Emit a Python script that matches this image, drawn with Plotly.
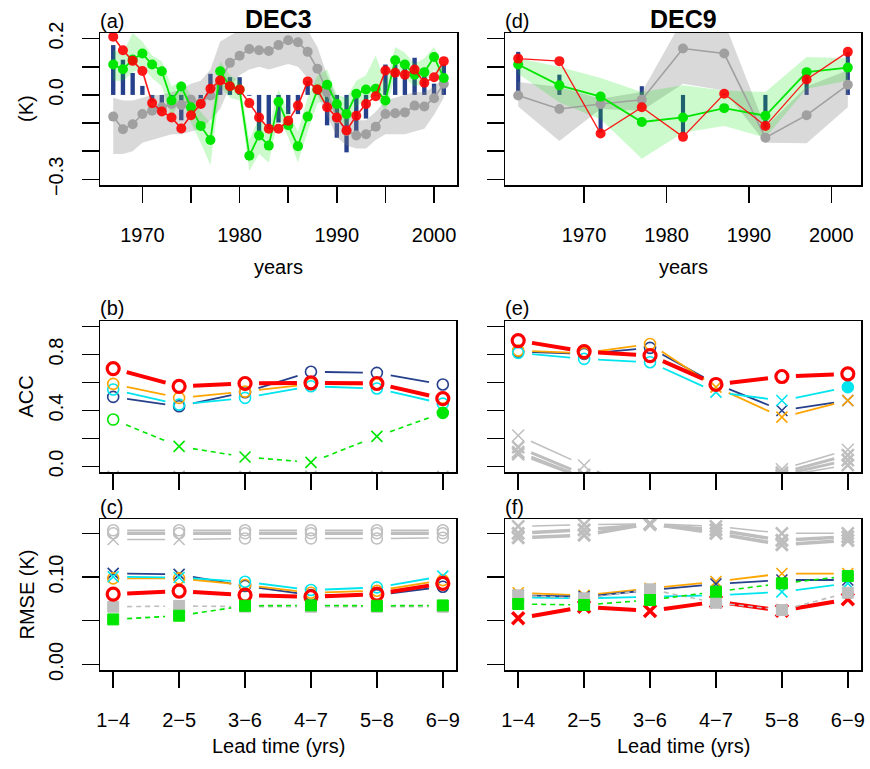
import math
import plotly.graph_objects as go

# ---------------- data ----------------
years3 = list(range(1967, 2002))
bar3 = [0.177, 0.125, 0.078, 0.032, -0.025, -0.035, -0.020, -0.090, -0.020, -0.030,
        0.075, 0.063, 0.063, 0.063, -0.003, -0.134, -0.122, -0.098, -0.068, -0.068,
        0.050, 0.020, -0.108, -0.152, -0.204, -0.128, -0.084, -0.003, 0.108, 0.108,
        0.120, 0.132, 0.084, 0.040, 0.108]
red3 = [0.207, 0.159, 0.121, 0.085, -0.029, -0.059, -0.080, -0.119, -0.072, -0.032,
        0.022, 0.051, 0.031, 0.019, -0.029, -0.080, -0.120, -0.120, -0.092, -0.038,
        0.048, 0.019, -0.044, -0.080, -0.126, -0.074, -0.032, -0.005, 0.087, 0.079,
        0.072, 0.090, 0.043, 0.063, 0.120]
green3 = [0.108, 0.091, 0.126, 0.147, 0.108, 0.084, -0.020, 0.030, -0.044, -0.110,
          -0.160, 0.084, 0.031, 0.019, -0.216, -0.144, -0.180, -0.024, -0.108, -0.182,
          -0.077, 0.019, 0.036, -0.032, -0.068, 0.004, 0.019, 0.022, -0.020, 0.123,
          0.108, 0.072, 0.081, 0.135, 0.060]
grey3 = [-0.077, -0.122, -0.104, -0.068, -0.056, -0.044, -0.032, -0.036, -0.017, -0.029,
         -0.002, 0.051, 0.114, 0.139, 0.163, 0.159, 0.156, 0.177, 0.194, 0.187,
         0.153, 0.093, 0.010, -0.084, -0.128, -0.144, -0.140, -0.113, -0.068, -0.065,
         -0.062, -0.038, -0.041, -0.012, 0.040]
grey3_hi = [-0.01, -0.02, -0.02, -0.01, 0.00, 0.00, 0.01, 0.02, 0.04, 0.05,
            0.09, 0.19, 0.21, 0.23, 0.24, 0.24, 0.24, 0.25, 0.26, 0.25,
            0.23, 0.17, 0.07, -0.01, -0.07, -0.09, -0.09, -0.06, -0.02, -0.01,
            0.00, 0.01, 0.01, 0.03, 0.06]
grey3_lo = [-0.21, -0.21, -0.20, -0.17, -0.16, -0.15, -0.14, -0.14, -0.13, -0.12,
            -0.09, -0.05, 0.03, 0.07, 0.09, 0.10, 0.09, 0.10, 0.11, 0.10,
            0.06, 0.00, -0.07, -0.15, -0.18, -0.19, -0.19, -0.16, -0.14, -0.14,
            -0.14, -0.13, -0.12, -0.07, -0.01]
green3_hi = [0.16, 0.15, 0.22, 0.19, 0.14, 0.12, 0.03, 0.05, 0.00, -0.06,
             -0.10, 0.12, 0.07, 0.05, -0.16, -0.08, -0.12, 0.02, -0.06, -0.13,
             -0.01, 0.07, 0.09, 0.00, -0.01, 0.05, 0.07, 0.14, 0.04, 0.17,
             0.15, 0.11, 0.13, 0.17, 0.10]
green3_lo = [0.05, 0.05, 0.08, 0.10, 0.06, 0.03, -0.08, -0.01, -0.10, -0.17,
             -0.25, 0.03, -0.01, -0.02, -0.27, -0.21, -0.24, -0.08, -0.15, -0.24,
             -0.13, -0.03, -0.02, -0.08, -0.11, -0.04, -0.02, 0.00, -0.06, 0.07,
             0.06, 0.03, 0.04, 0.09, 0.02]

years9 = [1962, 1967, 1972, 1977, 1982, 1987, 1992, 1997, 2002]
bar9 = [0.153, 0.072, -0.134, 0.031, -0.135, 0.005, -0.120, 0.081, 0.153]
red9 = [0.129, 0.120, -0.137, -0.044, -0.149, 0.004, -0.110, 0.055, 0.153]
green9 = [0.108, 0.034, -0.006, -0.096, -0.080, -0.047, -0.074, 0.081, 0.097]
grey9 = [-0.002, -0.050, -0.032, -0.017, 0.165, 0.147, -0.152, -0.072, 0.036]
grey9_hi = [0.046, 0.028, -0.014, 0.010, 0.27, 0.26, -0.115, 0.030, 0.088]
grey9_lo = [-0.041, -0.164, -0.050, -0.056, 0.040, 0.016, -0.170, -0.172, -0.044]
green9_hi = [0.130, 0.100, 0.060, 0.010, 0.034, 0.016, 0.010, 0.135, 0.130]
green9_lo = [0.075, -0.027, -0.086, -0.227, -0.134, -0.110, -0.152, 0.022, 0.050]

lead_labels = ["1−4", "2−5", "3−6", "4−7", "5−8", "6−9"]
lead_idx = [0, 1, 2, 3, 4, 5]

# ACC, DEC3
acc3_grey1 = [-0.07, -0.07, -0.07, -0.07, -0.07, -0.07]
acc3_grey2 = [-0.075, -0.075, -0.075, -0.075, -0.075, -0.075]
acc3_navy = [0.497, 0.430, 0.530, 0.677, 0.669, 0.586]
acc3_cyan = [0.550, 0.442, 0.490, 0.573, 0.557, 0.449]
acc3_orange = [0.590, 0.490, 0.535, 0.590, 0.586, 0.490]
acc3_red = [0.700, 0.573, 0.593, 0.598, 0.593, 0.485]
acc3_green = [0.335, 0.143, 0.067, 0.029, 0.215, 0.383]
acc3_green_sig = ["o", "x", "x", "x", "x", "f"]

# ACC, DEC9
acc9_grey1 = [0.221, 0.007, -0.20, -0.20, -0.02, 0.119]
acc9_grey2 = [0.138, -0.060, -0.20, -0.20, -0.045, 0.080]
acc9_grey3 = [0.102, -0.080, -0.20, -0.20, -0.06, 0.045]
acc9_grey4 = [0.088, -0.090, -0.20, -0.20, -0.07, 0.010]
acc9_navy = [0.821, 0.805, 0.848, 0.590, 0.400, 0.471]
acc9_navy_sig = ["o", "o", "o", "o", "x", "x"]
acc9_cyan = [0.812, 0.769, 0.745, 0.531, 0.471, 0.567]
acc9_cyan_sig = ["o", "o", "o", "x", "x", "f"]
acc9_orange = [0.829, 0.810, 0.876, 0.567, 0.352, 0.471]
acc9_orange_sig = ["o", "o", "o", "x", "x", "x"]
acc9_red = [0.900, 0.821, 0.793, 0.586, 0.643, 0.662]

# RMSE, DEC3
rmse3_grey1 = [0.1535, 0.1535, 0.1535, 0.1535, 0.1535, 0.1535]
rmse3_grey2 = [0.150, 0.150, 0.150, 0.150, 0.150, 0.150]
rmse3_grey3 = [0.143, 0.143, 0.144, 0.144, 0.144, 0.145]
rmse3_grey3_sig = ["x", "x", "o", "o", "o", "o"]
rmse3_navy = [0.1042, 0.1030, 0.0897, 0.0793, 0.0793, 0.0889]
rmse3_navy_sig = ["x", "x", "o", "o", "o", "o"]
rmse3_cyan = [0.1003, 0.0995, 0.0946, 0.0851, 0.0881, 0.1010]
rmse3_cyan_sig = ["x", "x", "o", "o", "o", "x"]
rmse3_orange = [0.0985, 0.0985, 0.0908, 0.0820, 0.0843, 0.0965]
rmse3_red = [0.0805, 0.0839, 0.0793, 0.0774, 0.0805, 0.0927]
rmse3_greysq = [0.0660, 0.0668, 0.0662, 0.0660, 0.0660, 0.0660]
rmse3_green = [0.0515, 0.0557, 0.0671, 0.0675, 0.0671, 0.0675]

# RMSE, DEC9
rmse9_grey1 = [0.158, 0.160, 0.161, 0.158, 0.150, 0.150]
rmse9_grey2 = [0.150, 0.154, 0.160, 0.154, 0.142, 0.146]
rmse9_grey3 = [0.145, 0.148, 0.161, 0.150, 0.137, 0.142]
rmse9_navy = [0.0790, 0.0775, 0.0850, 0.0920, 0.0966, 0.0966]
rmse9_cyan = [0.0767, 0.0756, 0.0775, 0.0790, 0.0830, 0.0928]
rmse9_orange = [0.0820, 0.0790, 0.0870, 0.0947, 0.1040, 0.1040]
rmse9_red = [0.0527, 0.0660, 0.0611, 0.0718, 0.0615, 0.0745]
rmse9_greysq = [0.0790, 0.0756, 0.0859, 0.0706, 0.0622, 0.0820]
rmse9_green = [0.0691, 0.0680, 0.0737, 0.0832, 0.0927, 0.1011]

# ---------------- style ----------------
W, H = 870, 769
FONT = "Liberation Sans, Arial, Helvetica, sans-serif"
NAVY = "#27408B"
RED = "#ff0000"
GREEN = "#00e600"
CYAN = "#00e5ee"
ORANGE = "#ffa500"
GREY = "#bebebe"
GREYPT = "#a0a0a0"

# panel boxes in pixels: (left, right, top, bottom)
boxes = {
    1: (100, 457, 33, 185),   # a
    2: (505, 861, 33, 185),   # d
    3: (100, 456, 321, 472),  # b
    4: (505, 861, 321, 472),  # e
    5: (100, 456, 519, 670),  # c
    6: (505, 861, 519, 670),  # f
}
xr_lead = [-0.2, 5.2]
yr = {1: [-0.32, 0.22], 2: [-0.32, 0.22], 3: [-0.04, 1.04], 4: [-0.04, 1.04],
      5: [-0.0064, 0.1664], 6: [-0.0064, 0.1664]}


def axn(k):
    return ("x" if k == 1 else f"x{k}", "y" if k == 1 else f"y{k}")


def pxscale(k):
    l, r, t, b = boxes[k]
    return (r - l) / (xr_lead[1] - xr_lead[0]), (b - t) / (yr[k][1] - yr[k][0])


fig = go.Figure()

# ---------- time-series panels ----------
def ts_panel(k, years, bars, barw, ghi, glo, gnhi, gnlo, grey, green, red, redw):
    xa, ya = axn(k)
    fig.add_trace(go.Bar(x=years, y=bars, width=barw, marker=dict(color=NAVY, line=dict(width=0)),
                         xaxis=xa, yaxis=ya, showlegend=False))
    fig.add_trace(go.Scatter(x=years + years[::-1], y=ghi + glo[::-1], fill="toself",
                             fillcolor="rgba(128,128,128,0.30)", line=dict(width=0),
                             mode="lines", xaxis=xa, yaxis=ya, showlegend=False, hoverinfo="skip"))
    fig.add_trace(go.Scatter(x=years + years[::-1], y=gnhi + gnlo[::-1], fill="toself",
                             fillcolor="rgba(0,230,0,0.20)", line=dict(width=0),
                             mode="lines", xaxis=xa, yaxis=ya, showlegend=False, hoverinfo="skip"))
    fig.add_trace(go.Scatter(x=years, y=grey, mode="lines+markers",
                             line=dict(color=GREYPT, width=1.6),
                             marker=dict(color=GREYPT, size=10),
                             xaxis=xa, yaxis=ya, showlegend=False))
    fig.add_trace(go.Scatter(x=years, y=green, mode="lines+markers",
                             line=dict(color=GREEN, width=1.8),
                             marker=dict(color=GREEN, size=10),
                             xaxis=xa, yaxis=ya, showlegend=False))
    fig.add_trace(go.Scatter(x=years, y=red, mode="lines+markers", opacity=0.9,
                             line=dict(color=RED, width=redw),
                             marker=dict(color=RED, size=10),
                             xaxis=xa, yaxis=ya, showlegend=False))


ts_panel(1, years3, bar3, 0.45, grey3_hi, grey3_lo, green3_hi, green3_lo, grey3, green3, red3, 1.6)
ts_panel(2, years9, bar9, 0.5, grey9_hi, grey9_lo, green9_hi, green9_lo, grey9, green9, red9, 1.3)

# ---------- lead-time panels ----------
SYM = {"o": "circle-open", "x": "x-thin-open", "s": "square", "f": "circle"}


def gapped(k, xs, ys, gap=14.0):
    sx, sy = pxscale(k)
    X, Y = [], []
    for i in range(len(xs) - 1):
        dx, dy = xs[i + 1] - xs[i], ys[i + 1] - ys[i]
        L = math.hypot(dx * sx, dy * sy)
        if L <= 2 * gap:
            continue
        t = gap / L
        X += [xs[i] + t * dx, xs[i + 1] - t * dx, None]
        Y += [ys[i] + t * dy, ys[i + 1] - t * dy, None]
    return X, Y


def lead_series(k, ys, color, sig, lw, mlw, msize, dash="solid"):
    xa, ya = axn(k)
    X, Y = gapped(k, lead_idx, ys)
    fig.add_trace(go.Scatter(x=X, y=Y, mode="lines", line=dict(color=color, width=lw, dash=dash),
                             xaxis=xa, yaxis=ya, showlegend=False, hoverinfo="skip"))
    if isinstance(sig, str):
        sig = [sig] * len(ys)
    fig.add_trace(go.Scatter(x=lead_idx, y=ys, mode="markers",
                             marker=dict(symbol=[SYM[s] for s in sig], color=color, size=msize,
                                         line=dict(color=color, width=mlw)),
                             xaxis=xa, yaxis=ya, showlegend=False))


# (b) ACC DEC3
lead_series(3, acc3_grey1, GREY, "x", 1.5, 1.5, 11)
lead_series(3, acc3_grey2, GREY, "x", 3, 1.5, 11)
lead_series(3, acc3_navy, NAVY, "o", 1.8, 1.6, 11)
lead_series(3, acc3_cyan, CYAN, "o", 1.8, 1.6, 11)
lead_series(3, acc3_orange, ORANGE, "o", 1.8, 1.6, 11)
lead_series(3, acc3_red, RED, "o", 4, 3.2, 12)
lead_series(3, acc3_green, GREEN, acc3_green_sig, 1.6, 1.6, 11, dash="5px,4px")

# (e) ACC DEC9
lead_series(4, acc9_grey1, GREY, "x", 1.5, 1.5, 12)
lead_series(4, acc9_grey2, GREY, "x", 3, 2.5, 12)
lead_series(4, acc9_grey3, GREY, "x", 3, 2.5, 12)
lead_series(4, acc9_grey4, GREY, "x", 1.5, 2.5, 12)
lead_series(4, acc9_navy, NAVY, acc9_navy_sig, 1.8, 1.6, 11)
lead_series(4, acc9_orange, ORANGE, acc9_orange_sig, 1.8, 1.6, 11)
lead_series(4, acc9_cyan, CYAN, acc9_cyan_sig, 1.8, 1.6, 11)
lead_series(4, acc9_red, RED, "o", 4, 3.2, 12)

# (c) RMSE DEC3
lead_series(5, rmse3_grey1, GREY, "o", 1.5, 1.5, 11)
lead_series(5, rmse3_grey2, GREY, "o", 3.5, 1.5, 11)
lead_series(5, rmse3_grey3, GREY, rmse3_grey3_sig, 1.5, 1.5, 11)
lead_series(5, rmse3_greysq, GREY, "s", 1.6, 1, 11, dash="5px,4px")
lead_series(5, rmse3_navy, NAVY, rmse3_navy_sig, 1.8, 1.6, 11)
lead_series(5, rmse3_orange, ORANGE, "o", 1.8, 1.6, 11)
lead_series(5, rmse3_cyan, CYAN, rmse3_cyan_sig, 1.8, 1.6, 11)
lead_series(5, rmse3_red, RED, "o", 4, 3.2, 12)
lead_series(5, rmse3_green, GREEN, "s", 1.6, 1, 11, dash="5px,4px")

# (f) RMSE DEC9
lead_series(6, rmse9_grey1, GREY, "x", 1.5, 2.5, 12)
lead_series(6, rmse9_grey2, GREY, "x", 3.5, 3, 12)
lead_series(6, rmse9_grey3, GREY, "x", 3.5, 3, 12)
lead_series(6, rmse9_red, RED, "x", 4, 3.5, 12)
lead_series(6, rmse9_orange, ORANGE, "x", 1.8, 1.6, 11)
lead_series(6, rmse9_navy, NAVY, "x", 1.8, 1.6, 11)
lead_series(6, rmse9_cyan, CYAN, "x", 1.8, 1.6, 11)
lead_series(6, rmse9_greysq, GREY, "s", 1.6, 1, 11, dash="5px,4px")
lead_series(6, rmse9_green, GREEN, "s", 1.6, 1, 11, dash="5px,4px")

# ---------- axes ----------
base = dict(showline=True, mirror=True, linecolor="black", linewidth=1.5, ticks="outside",
            tickcolor="black", tickwidth=1.5, showgrid=False, zeroline=False,
            tickfont=dict(size=20, color="black", family=FONT), automargin=False)
layout_axes = {}
for k, (l, r, t, b) in boxes.items():
    xa, ya = axn(k)
    xkey = "xaxis" if k == 1 else f"xaxis{k}"
    ykey = "yaxis" if k == 1 else f"yaxis{k}"
    xd = dict(base, domain=[l / W, r / W], anchor=ya, ticklen=16)
    yd = dict(base, domain=[1 - b / H, 1 - t / H], anchor=xa, ticklen=17, range=yr[k],
              tickangle=-90, ticklabelstandoff=11)
    if k == 1:
        xd.update(range=[1965.64, 2002.36], tickvals=[1970, 1975, 1980, 1985, 1990, 1995, 2000],
                  ticktext=["1970", "", "1980", "", "1990", "", "2000"], ticklabelstandoff=15)
    elif k == 2:
        xd.update(range=[1960.4, 2003.6], tickvals=[1970, 1980, 1990, 2000],
                  ticktext=["1970", "1980", "1990", "2000"], ticklabelstandoff=15)
    else:
        xd.update(range=xr_lead, tickvals=lead_idx, ticktext=lead_labels, ticklabelstandoff=15,
                  showticklabels=(k in (5, 6)))
    if k in (1, 2):
        yd.update(tickvals=[-0.3, -0.2, -0.1, 0.0, 0.1, 0.2],
                  ticktext=["−0.3", "", "", "0.0", "", "0.2"])
    elif k in (3, 4):
        yd.update(tickvals=[0, 0.2, 0.4, 0.6, 0.8, 1.0],
                  ticktext=["0.0", "", "0.4", "", "0.8", ""])
    else:
        yd.update(tickvals=[0, 0.05, 0.10, 0.15], ticktext=["0.00", "", "0.10", ""])
    if k in (2, 4, 6):
        yd.update(showticklabels=False)
    layout_axes[xkey] = xd
    layout_axes[ykey] = yd

# ---------- text ----------
def ann(text, px, py, size=20, angle=0, anchor="center", bold=False):
    return dict(text=f"<b>{text}</b>" if bold else text, x=px / W, y=1 - py / H,
                xref="paper", yref="paper", showarrow=False, textangle=angle,
                xanchor=anchor, yanchor="middle",
                font=dict(size=size, color="black", family=FONT))


annotations = [
    ann("(a)", 98, 21, anchor="left"), ann("DEC3", 278.5, 19, size=25, bold=True),
    ann("(d)", 503, 21, anchor="left"), ann("DEC9", 683, 19, size=25, bold=True),
    ann("(b)", 98, 308, anchor="left"), ann("(e)", 503, 308, anchor="left"),
    ann("(c)", 98, 507, anchor="left"), ann("(f)", 503, 507, anchor="left"),
    ann("(K)", 26, 109, angle=-90), ann("ACC", 26, 396.5, angle=-90),
    ann("RMSE (K)", 26, 594.5, angle=-90),
    ann("years", 278.5, 267), ann("years", 683, 267),
    ann("Lead time (yrs)", 278, 746), ann("Lead time (yrs)", 683, 746),
]

fig.update_layout(width=W, height=H, margin=dict(l=0, r=0, t=0, b=0),
                  paper_bgcolor="white", plot_bgcolor="white", showlegend=False,
                  barmode="overlay", hovermode=False,
                  font=dict(family=FONT, size=20, color="black"),
                  annotations=annotations, **layout_axes)

fig.write_html("out.html", config={"displayModeBar": False, "staticPlot": True},
               post_script="document.body.style.margin='0';document.body.style.overflow='hidden';")
